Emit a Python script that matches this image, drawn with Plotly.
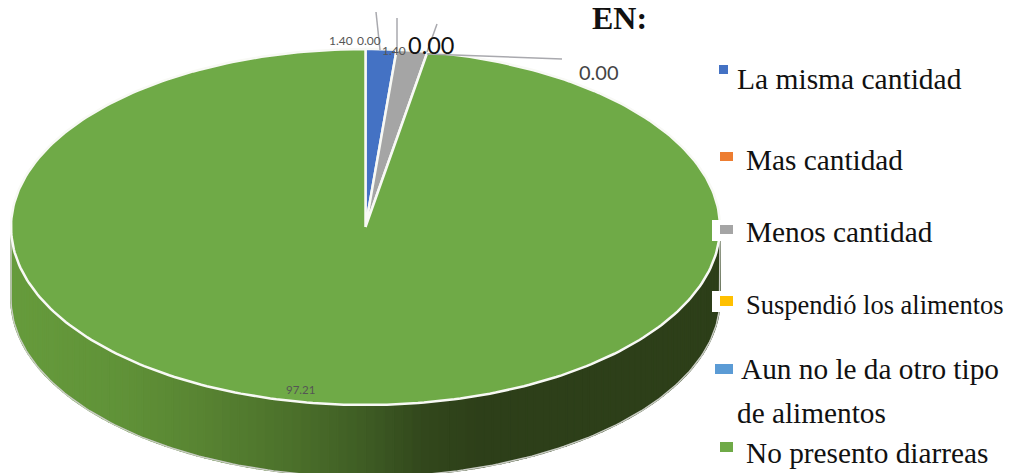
import math
import plotly.graph_objects as go

categories = ["La misma cantidad", "Mas cantidad", "Menos cantidad",
              "Suspendió los alimentos", "Aun no le da otro tipo de alimentos",
              "No presento diarreas"]
values = [1.40, 0.00, 1.40, 0.00, 0.00, 97.21]
colors = ["#4472C4", "#ED7D31", "#A5A5A5", "#FFC000", "#5B9BD5", "#6FAA47"]

# pie geometry in picture pixels
CX, CY, RX, RY, DEPTH = 365.5, 227.0, 354.5, 178.0, 72.0
SERIF = "Liberation Serif"
SANS = "Lato"


def pt(theta, dy=0.0):
    return CX + RX * math.sin(theta), CY - RY * math.cos(theta) + dy


def lerp_color(stops, x):
    for (x0, c0), (x1, c1) in zip(stops, stops[1:]):
        if x <= x1:
            t = max(0.0, (x - x0) / (x1 - x0))
            return "rgb(%d,%d,%d)" % tuple(round(a + (b - a) * t) for a, b in zip(c0, c1))
    return "rgb(%d,%d,%d)" % stops[-1][1]


WALL = [(11, (102, 155, 60)), (120, (96, 146, 56)), (200, (88, 132, 50)),
        (300, (74, 110, 42)), (365, (62, 92, 36)), (420, (50, 72, 28)),
        (480, (45, 63, 25)), (720, (45, 63, 25))]

fig = go.Figure()

# front wall, split in narrow strips to carry the left-to-right shading
N = 120
edges = [math.pi / 2 + math.pi * i / N for i in range(N + 1)]
for a, b in zip(edges, edges[1:]):
    x0, y0 = pt(a)
    x1, y1 = pt(b)
    c = lerp_color(WALL, (x0 + x1) / 2)
    fig.add_trace(go.Scatter(
        x=[x0, x1, x1, x0, x0], y=[y0, y1, y1 + DEPTH, y0 + DEPTH, y0],
        mode="lines", fill="toself", fillcolor=c, line=dict(color=c, width=1.5),
        hoverinfo="skip", showlegend=False))

# outer edge of the wall
arc = [math.pi / 2 + math.pi * i / 180 for i in range(181)]
fig.add_trace(go.Scatter(
    x=[pt(math.pi / 2)[0]] + [pt(t)[0] for t in arc] + [pt(3 * math.pi / 2)[0]],
    y=[CY] + [pt(t, DEPTH)[1] for t in arc] + [CY],
    mode="lines", line=dict(color="#C9CCC4", width=1.5),
    hoverinfo="skip", showlegend=False))

# top face: one wedge per category, clockwise from twelve o'clock
total = sum(values)
start = 0.0
for name, v, col in zip(categories, values, colors):
    sweep = 2 * math.pi * v / total
    if v > 0:
        n = max(4, int(sweep / math.radians(1)))
        ts = [start + sweep * i / n for i in range(n + 1)]
        fig.add_trace(go.Scatter(
            x=[CX] + [pt(t)[0] for t in ts] + [CX],
            y=[CY] + [pt(t)[1] for t in ts] + [CY],
            mode="lines", fill="toself", fillcolor=col,
            line=dict(color="#F8F9F5", width=2.5),
            name=name, text=f"{name}: {v:.2f}", hoverinfo="text", showlegend=False))
    start += sweep

# leader lines
for xs, ys in [([376, 380], [12, 50]), ([397, 397], [18, 52]),
               ([437, 427], [24, 52]), ([427, 562], [54, 59])]:
    fig.add_trace(go.Scatter(x=xs, y=ys, mode="lines",
                             line=dict(color="#A9A9AE", width=1.5),
                             hoverinfo="skip", showlegend=False))

# legend swatches
shapes = [
    dict(type="rect", x0=712, x1=733, y0=220, y1=241, fillcolor="white", line_width=0),
    dict(type="rect", x0=712, x1=733, y0=291, y1=312, fillcolor="white", line_width=0),
]
swatches = [(719, 728, 65, 74), (720, 733, 152, 161), (720, 733, 225, 234),
            (720, 733, 296, 306), (715, 733, 364, 374), (720, 733, 442, 452)]
for (x0, x1, y0, y1), col in zip(swatches, colors):
    shapes.append(dict(type="rect", x0=x0, x1=x1, y0=y0, y1=y1, fillcolor=col, line_width=0))


def note(text, x, y, size, color, family, anchor="left", bold=False):
    if bold:
        text = f"<b>{text}</b>"
    return dict(x=x, y=y, text=text, showarrow=False, xanchor=anchor, yanchor="middle",
                font=dict(size=size, color=color, family=family), borderpad=0, borderwidth=0)


lab = [f"{v:.2f}" for v in values]
annotations = [
    note("EN:", 592, 18, 32, "#111111", SERIF, bold=True),
    # legend text
    note(categories[0], 737, 79, 29.5, "#111111", SERIF),
    note(categories[1], 746, 160, 29.3, "#111111", SERIF),
    note(categories[2], 746, 232, 29.3, "#111111", SERIF),
    note(categories[3], 746, 305, 26.5, "#111111", SERIF),
    note("Aun no le da otro tipo", 741, 369, 29.3, "#111111", SERIF),
    note("de alimentos", 737, 413, 29.3, "#111111", SERIF),
    note(categories[5], 746, 453, 29.3, "#111111", SERIF),
    # data labels
    note(lab[0], 329, 40, 12, "#555555", SANS),
    note(lab[1], 357, 40, 12, "#555555", SANS),
    note(lab[2], 382, 50, 12, "#555555", SANS),
    note(lab[3], 408, 45, 23.5, "#111111", SANS),
    note(lab[4], 579, 72, 20, "#444444", SANS),
    note(lab[5], 286, 389, 11.5, "#555555", SANS),
]

fig.update_layout(
    width=1010, height=473, margin=dict(l=0, r=0, t=0, b=0),
    paper_bgcolor="white", plot_bgcolor="white", showlegend=False,
    xaxis=dict(range=[0, 1010], visible=False, fixedrange=True),
    yaxis=dict(range=[473, 0], visible=False, fixedrange=True),
    shapes=shapes, annotations=annotations,
)
fig.write_html("out.html", config={"displayModeBar": False},
               post_script="document.body.style.margin='0';document.body.style.overflow='hidden';")
